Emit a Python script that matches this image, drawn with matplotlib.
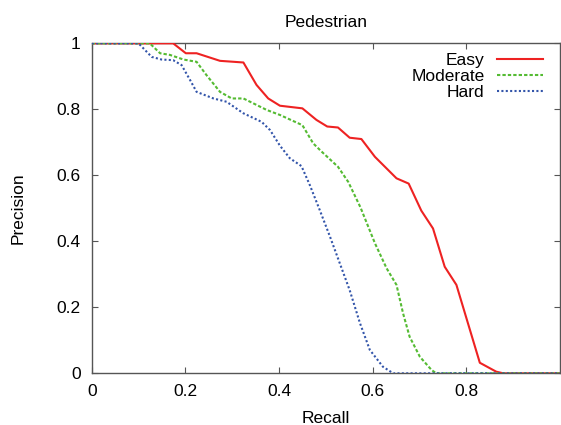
"""Precision-recall curves for the pedestrian class (Easy / Moderate / Hard)."""

import matplotlib
matplotlib.use("Agg")
import matplotlib.pyplot as plt

# values
easy_recall = [0.0, 0.174, 0.201, 0.224, 0.274, 0.324, 0.352, 0.377, 0.402, 0.450,
               0.480, 0.503, 0.526, 0.551, 0.576, 0.605, 0.651, 0.677, 0.704, 0.729,
               0.754, 0.779, 0.829, 0.864, 0.879, 1.0]
easy_precision = [1.0, 1.0, 0.970, 0.970, 0.947, 0.942, 0.874, 0.833, 0.811, 0.803,
                  0.768, 0.748, 0.745, 0.714, 0.710, 0.656, 0.591, 0.575, 0.493, 0.439,
                  0.323, 0.268, 0.032, 0.005, 0.0, 0.0]

moderate_recall = [0.0, 0.124, 0.146, 0.167, 0.196, 0.224, 0.245, 0.274, 0.299, 0.324,
                   0.374, 0.402, 0.450, 0.473, 0.491, 0.526, 0.548, 0.574, 0.605, 0.630,
                   0.651, 0.665, 0.679, 0.701, 0.726, 0.736, 1.0]
moderate_precision = [1.0, 1.0, 0.970, 0.965, 0.951, 0.944, 0.904, 0.853, 0.833, 0.833,
                      0.798, 0.783, 0.752, 0.697, 0.672, 0.626, 0.580, 0.503, 0.394, 0.318,
                      0.268, 0.182, 0.111, 0.050, 0.010, 0.0, 0.0]

hard_recall = [0.0, 0.100, 0.128, 0.149, 0.174, 0.192, 0.210, 0.224, 0.260, 0.288,
               0.324, 0.363, 0.381, 0.402, 0.423, 0.448, 0.466, 0.487, 0.509, 0.551,
               0.573, 0.594, 0.622, 0.644, 1.0]
hard_precision = [1.0, 1.0, 0.959, 0.951, 0.949, 0.934, 0.889, 0.853, 0.833, 0.823,
                  0.788, 0.762, 0.737, 0.690, 0.652, 0.628, 0.570, 0.495, 0.414, 0.252,
                  0.152, 0.071, 0.020, 0.0, 0.0]

x_ticks = [0, 0.2, 0.4, 0.6, 0.8]
x_tick_labels = ["0", "0.2", "0.4", "0.6", "0.8"]
y_ticks = [0, 0.2, 0.4, 0.6, 0.8, 1.0]
y_tick_labels = ["0", "0.2", "0.4", "0.6", "0.8", "1"]

plt.rcParams["font.family"] = ["Liberation Sans", "DejaVu Sans"]

fig = plt.figure(figsize=(5.61, 4.25), dpi=100)
ax = fig.add_axes([0.1635, 0.1216, 0.8345, 0.7764])

ax.plot(easy_recall, easy_precision, color="#ee2222", linewidth=1.5, label="Easy")
ax.plot(moderate_recall, moderate_precision, color="#55bb33", linewidth=1.5,
        linestyle=(0, (1.6, 1.0)), label="Moderate")
ax.plot(hard_recall, hard_precision, color="#3355aa", linewidth=1.5,
        linestyle=(0, (1.0, 1.1)), label="Hard")

ax.set_xlim(0, 1)
ax.set_ylim(0, 1)
ax.set_xticks(x_ticks)
ax.set_xticklabels(x_tick_labels)
ax.set_yticks(y_ticks)
ax.set_yticklabels(y_tick_labels)
ax.tick_params(direction="in", length=4, width=0.8, color="#555555",
               labelsize=12.5, pad=8, top=True, right=True)

for side in ["left", "bottom", "top", "right"]:
    ax.spines[side].set_color("#555555")
    ax.spines[side].set_linewidth(1.0)
    ax.spines[side].set_zorder(0)

ax.set_title("Pedestrian", fontsize=12.5, pad=12)
ax.set_xlabel("Recall", fontsize=12.5, labelpad=8)
ax.set_ylabel("Precision", fontsize=12.5, labelpad=22)

ax.legend(loc="upper right", bbox_to_anchor=(0.965, 0.97), frameon=False,
          markerfirst=False, fontsize=12.5, handlelength=2.7, handletextpad=0.7,
          labelspacing=0.03, borderpad=0, borderaxespad=0)

fig.savefig("out.png", dpi=100)
